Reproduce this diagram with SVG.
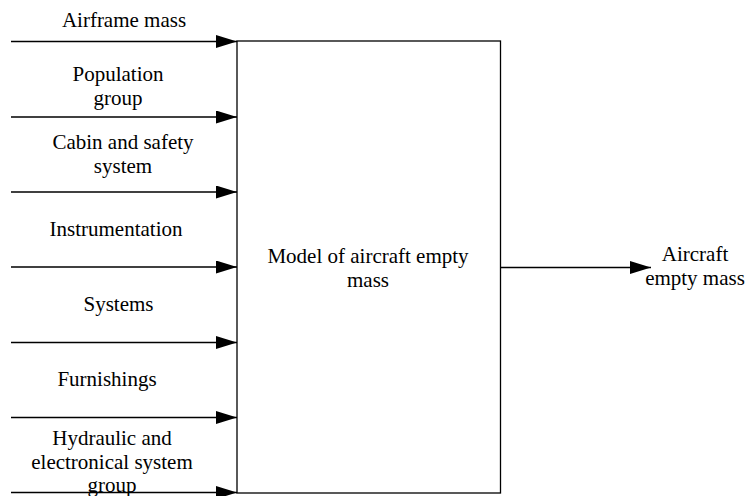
<svg xmlns="http://www.w3.org/2000/svg" width="747" height="496" viewBox="0 0 747 496">
<defs>
<style>
text{font-family:"Liberation Serif","Times New Roman",serif;font-size:21px;fill:#000;text-anchor:middle}
.c{stroke:#000;stroke-width:1.3;fill:none}
.box{fill:#fff;stroke:#000;stroke-width:1.3}
</style>
<marker id="ah" markerUnits="userSpaceOnUse" markerWidth="22" markerHeight="14" refX="21" refY="6.5" orient="auto">
<path d="M0,0 L21,6.5 L0,13 z" fill="#000"/>
</marker>
</defs>
<rect width="747" height="496" fill="#fff"/>
<g id="model">
<rect class="box" x="237" y="41" width="263.5" height="452"/>
<text x="368" y="263">Model of aircraft empty</text>
<text x="368" y="287">mass</text>
</g>
<g id="connectors">
<line class="c" x1="11" y1="41.5" x2="237" y2="41.5" marker-end="url(#ah)"/>
<line class="c" x1="11" y1="117" x2="237" y2="117" marker-end="url(#ah)"/>
<line class="c" x1="11" y1="192" x2="237" y2="192" marker-end="url(#ah)"/>
<line class="c" x1="11" y1="267" x2="237" y2="267" marker-end="url(#ah)"/>
<line class="c" x1="11" y1="342.5" x2="237" y2="342.5" marker-end="url(#ah)"/>
<line class="c" x1="11" y1="417.5" x2="237" y2="417.5" marker-end="url(#ah)"/>
<line class="c" x1="11" y1="492.5" x2="237" y2="492.5" marker-end="url(#ah)"/>
<line class="c" x1="500.5" y1="267.5" x2="651" y2="267.5" marker-end="url(#ah)"/>
</g>
<g id="in-airframe"><text x="124" y="27">Airframe mass</text></g>
<g id="in-population"><text x="118" y="81">Population</text><text x="118" y="105">group</text></g>
<g id="in-cabin"><text x="123" y="149">Cabin and safety</text><text x="123" y="173">system</text></g>
<g id="in-instrumentation"><text x="116" y="236">Instrumentation</text></g>
<g id="in-systems"><text x="118.5" y="311">Systems</text></g>
<g id="in-furnishings"><text x="107" y="386">Furnishings</text></g>
<g id="in-hydraulic"><text x="112" y="445">Hydraulic and</text><text x="112" y="469">electronical system</text><text x="112" y="492">group</text></g>
<g id="out-empty-mass"><text x="695" y="261">Aircraft</text><text x="695" y="285">empty mass</text></g>
</svg>
